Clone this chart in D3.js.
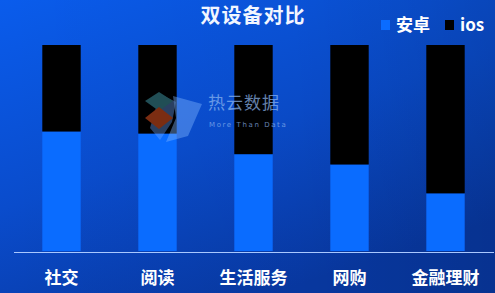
<!DOCTYPE html>
<html>
<head>
<meta charset="utf-8">
<script src="https://cdn.jsdelivr.net/npm/d3@7"></script>
<style>
html,body{margin:0;padding:0;background:#0a4cd0;}
svg{display:block;}
</style>
</head>
<body>
<svg id="chart" width="495" height="293"></svg>
<script>
const categories = ["社交", "阅读", "生活服务", "网购", "金融理财"];
const android = [58, 57, 47, 42, 28];
const ios = [42, 43, 53, 58, 72];
const seriesNames = ["安卓", "ios"];
const seriesColors = ["#0a6cff", "#000000"];
const title = "双设备对比";

const W = 495, H = 293;
const svg = d3.select("#chart");
const font = "'Noto Sans CJK SC','Noto Sans',sans-serif";

// background gradient
const defs = svg.append("defs");
const lg = defs.append("linearGradient").attr("id", "bg")
  .attr("x1", "0").attr("y1", "0").attr("x2", "0.55").attr("y2", "1");
lg.append("stop").attr("offset", "0%").attr("stop-color", "#0a5cec");
lg.append("stop").attr("offset", "55%").attr("stop-color", "#0a4ccc");
lg.append("stop").attr("offset", "100%").attr("stop-color", "#0839a4");
svg.append("rect").attr("width", W).attr("height", H).attr("fill", "url(#bg)");
const rg = defs.append("linearGradient").attr("id", "shade")
  .attr("x1", "0").attr("y1", "0").attr("x2", "1").attr("y2", "0");
rg.append("stop").attr("offset", "0%").attr("stop-color", "#000").attr("stop-opacity", 0);
rg.append("stop").attr("offset", "60%").attr("stop-color", "#000").attr("stop-opacity", 0.03);
rg.append("stop").attr("offset", "100%").attr("stop-color", "#000").attr("stop-opacity", 0.12);
svg.append("rect").attr("width", W).attr("height", H).attr("fill", "url(#shade)");

// scales
const x = d3.scaleBand().domain(categories).range([13.5, 493.5]).padding(0);
const y = d3.scaleLinear().domain([0, 100]).range([251, 45]);
const bw = x.bandwidth() * 0.4;

const data = categories.map((c, i) => ({cat: c, android: android[i], ios: ios[i]}));
const stack = d3.stack().keys(["android", "ios"])(data);

svg.append("g").selectAll("g").data(stack).join("g")
  .attr("fill", (d, i) => seriesColors[i])
  .selectAll("rect").data(d => d).join("rect")
  .attr("x", d => x(d.data.cat) + x.bandwidth() / 2 - bw / 2)
  .attr("width", bw)
  .attr("y", d => y(d[1]))
  .attr("height", d => y(d[0]) - y(d[1]));

// watermark
const wm = svg.append("g").attr("opacity", 0.7);
wm.append("path").attr("d", "M160,94 L176,102 L172,122 L160,140 L150,128 Z").attr("fill", "#6fa8ff").attr("opacity", 0.55);
wm.append("path").attr("d", "M145,101 L159,92 L173,101 L159,111 Z").attr("fill", "#2f6f7a");
wm.append("path").attr("d", "M145,118 L159,107 L173,118 L159,129 Z").attr("fill", "#b0401a");
wm.append("path").attr("d", "M173,96 L202,104 L188,136 L166,142 L176,118 Z").attr("fill", "#7fb6ff").attr("opacity", 0.6);
wm.append("text").attr("x", 208).attr("y", 109).attr("font-family", font).attr("font-size", 17)
  .attr("fill", "#8fb8f0").attr("letter-spacing", 1).text("热云数据");
wm.append("text").attr("x", 209).attr("y", 127).attr("font-family", "'DejaVu Sans',sans-serif").attr("font-size", 7)
  .attr("fill", "#8fb8f0").attr("letter-spacing", 1.6).text("More Than Data");

// axis
const axis = svg.append("g").attr("transform", "translate(0,252)")
  .call(d3.axisBottom(x).tickSize(0).tickSizeOuter(0).tickPadding(20));
axis.select(".domain").attr("stroke", "#a9c8ff").attr("stroke-width", 1);
axis.selectAll("text").attr("fill", "#ffffff").attr("font-family", font)
  .attr("font-size", 17).attr("font-weight", "bold");

// title
svg.append("text").attr("x", 253).attr("y", 23).attr("text-anchor", "middle")
  .attr("font-family", font).attr("font-size", 20).attr("font-weight", "bold")
  .attr("fill", "#f2f6ff").attr("letter-spacing", 1).text(title);

// legend
const legendX = [381, 445];
const lgG = svg.append("g");
seriesNames.forEach((n, i) => {
  lgG.append("rect").attr("x", legendX[i]).attr("y", 20).attr("width", 9).attr("height", 10)
    .attr("fill", seriesColors[i]);
  lgG.append("text").attr("x", legendX[i] + 15).attr("y", 31)
    .attr("font-family", font).attr("font-size", 17).attr("font-weight", "bold")
    .attr("fill", "#ffffff").text(n);
});
</script>
</body>
</html>
